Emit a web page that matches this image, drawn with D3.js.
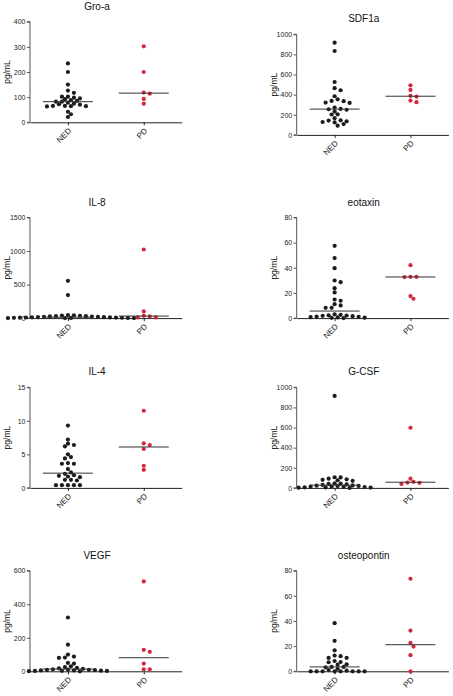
<!DOCTYPE html>
<html><head><meta charset="utf-8">
<script src="https://cdn.jsdelivr.net/npm/d3@7"></script>
<style>
html,body{margin:0;padding:0;background:#fff;}
svg{display:block;font-family:"Liberation Sans",Arial,sans-serif;}
</style></head>
<body>
<svg id="chart" width="453" height="696"></svg>
<script>
// ---- data ----
const categories = ["NED", "PD"];
const titles = ["Gro-a", "SDF1a", "IL-8", "eotaxin", "IL-4", "G-CSF", "VEGF", "osteopontin"];
const yMaxes = [400, 1000, 1500, 80, 15, 1000, 600, 80];
const yTickSteps = [100, 200, 500, 20, 5, 200, 200, 20];
const yLabel = "pg/mL";

const groA_NED = [234,200,150,126,117,102,102,98,95,92,88,85,82,82,78,74,72,70,65,65,64,64,63,42,32,21];
const groA_PD = [302,200,118,114,93,74];
const sdf1a_NED = [917,834,526,464,444,384,354,338,335,321,318,272,258,255,250,232,205,203,166,145,142,135,128,124,108,92];
const sdf1a_PD = [493,447,388,381,341,325];
const il8_NED = [556,343,45,40,38,35,30,28,25,22,20,18,15,14,12,10,9,8,6,5,4,3,2,1,0,0];
const il8_PD = [1023,99,35,25,10,10];
const eotaxin_NED = [57.5,47.7,39.7,29.9,28.6,23.8,20.4,14.8,13.8,11.1,10.1,8.2,8.2,3,2.6,2.2,2,1.8,1.5,1.2,1,0.8,0.5,0.3,0.2,0];
const eotaxin_PD = [42.1,32.8,32.8,32.6,17.5,15.4];
const il4_NED = [9.3,7.2,6.6,6.4,6.2,5.0,4.6,4.4,3.7,3.6,3.6,2.8,2.3,2.1,1.9,1.8,1.7,1.6,1.2,1.2,1.1,0.4,0.4,0.4,0.4,0.4];
const il4_PD = [11.5,6.65,6.4,5.8,3.3,2.7];
const gcsf_NED = [914,106,104,92,85,80,76,70,45,43,40,35,30,25,22,20,18,15,12,10,8,6,5,3,2,0];
const gcsf_PD = [598,92,60,53,50,40];
const vegf_NED = [321,159,100,88,82,80,50,46,30,25,20,18,15,12,10,9,8,7,6,5,4,3,2,2,1,0];
const vegf_PD = [536,128,116,46,12,12];
const osteo_NED = [38.3,24.2,16.7,12.5,12,10.6,10.6,8.2,7.4,7.2,5.6,5.3,3.5,3.5,3.2,2,1,0.5,0,0,0,0,0,0,0,0];
const osteo_PD = [73.6,32.4,22.6,19.7,12.8,0];

const nedSeries = [groA_NED, sdf1a_NED, il8_NED, eotaxin_NED, il4_NED, gcsf_NED, vegf_NED, osteo_NED];
const pdSeries = [groA_PD, sdf1a_PD, il8_PD, eotaxin_PD, il4_PD, gcsf_PD, vegf_PD, osteo_PD];

// ---- layout ----
const colX = [30, 296.7];
const rowTops = [[21.7, 34.3], [217.5, 217.5], [387.3, 387.3], [570.7, 570.7]];
const plotW = 151.7, plotH = 100.6;
const colors = {NED: "#1c1c1c", PD: "#d6283a"};
const R = 2.1, STEP = 3, MINDIST = 3.9;
const FONT = "Liberation Sans, Arial, sans-serif";

const svg = d3.select("#chart");

function swarm(values, y) {
  const sorted = values.slice().sort((a, b) => b - a);
  const placed = [];
  sorted.forEach(v => {
    const py = y(v);
    let k = 0, off = 0;
    for (;;) {
      const cand = k === 0 ? [0] : [k * STEP, -k * STEP];
      let ok = null;
      for (const c of cand) {
        if (placed.every(p => Math.hypot(p.dx - c, p.y - py) >= MINDIST)) { ok = c; break; }
      }
      if (ok !== null) { off = ok; break; }
      k++;
    }
    placed.push({v: v, y: py, dx: off});
  });
  return placed;
}

const c45 = Math.SQRT1_2;

titles.forEach((t, i) => {
  const row = Math.floor(i / 2), col = i % 2;
  const left = colX[col], top = rowTops[row][col];
  const g = svg.append("g").attr("transform", `translate(${left},${top})`);

  const y = d3.scaleLinear().domain([0, yMaxes[i]]).range([plotH, 0]);
  const x = d3.scalePoint().domain(categories).range([0, plotW]).padding(0.5);

  const ticks = d3.range(0, yMaxes[i] + yTickSteps[i] / 2, yTickSteps[i]);
  const yAxis = g.append("g").call(d3.axisLeft(y).tickValues(ticks).tickSize(3).tickPadding(1.5).tickFormat(d3.format("d")));
  yAxis.selectAll("path,line").attr("stroke", "#555").attr("stroke-width", 1);
  yAxis.select(".domain").attr("d", `M-3,${plotH}H0V0H-3`).attr("stroke", "#555");
  yAxis.selectAll("text").attr("font-size", 7).attr("fill", "#222").attr("font-family", FONT);

  const xAxis = g.append("g").attr("transform", `translate(0,${plotH})`)
    .call(d3.axisBottom(x).tickSize(3).tickSizeOuter(0).tickFormat(() => ""));
  xAxis.selectAll("path,line").attr("stroke", "#222").attr("stroke-width", 1);
  xAxis.selectAll(".tick text").remove();

  // rotated category labels (rotation carried by a wrapping group)
  const lab = g.selectAll("g.xlab").data(categories).join("g")
    .attr("class", "xlab")
    .attr("transform", d => `matrix(${c45},${-c45},${c45},${c45},${x(d) + 2},${plotH + 7})`);
  lab.append("text")
    .attr("text-anchor", "end").attr("dy", "0.35em")
    .attr("font-size", 8).attr("fill", "#222").attr("font-family", FONT)
    .text(d => d);

  // title
  g.append("text").attr("x", 67).attr("y", -12).attr("text-anchor", "middle")
    .attr("font-size", 10).attr("fill", "#111").attr("font-family", FONT).text(t);
  // y label
  g.append("text").attr("transform", `translate(-23,${plotH / 2}) rotate(-90)`)
    .attr("text-anchor", "middle").attr("dy", "0.35em")
    .attr("font-size", 8.5).attr("fill", "#111").attr("font-family", FONT).text(yLabel);

  const groups = [["NED", nedSeries[i]], ["PD", pdSeries[i]]];
  groups.forEach(([cat, vals]) => {
    const cx = x(cat);
    const pts = swarm(vals, y);
    g.append("g").selectAll("circle").data(pts).join("circle")
      .attr("cx", d => cx + d.dx).attr("cy", d => d.y).attr("r", R)
      .attr("fill", colors[cat]);
    const med = d3.median(vals);
    g.append("line").attr("x1", cx - 25).attr("x2", cx + 25)
      .attr("y1", y(med)).attr("y2", y(med))
      .attr("stroke", "#333").attr("stroke-width", 1);
  });
});
</script>
</body></html>
